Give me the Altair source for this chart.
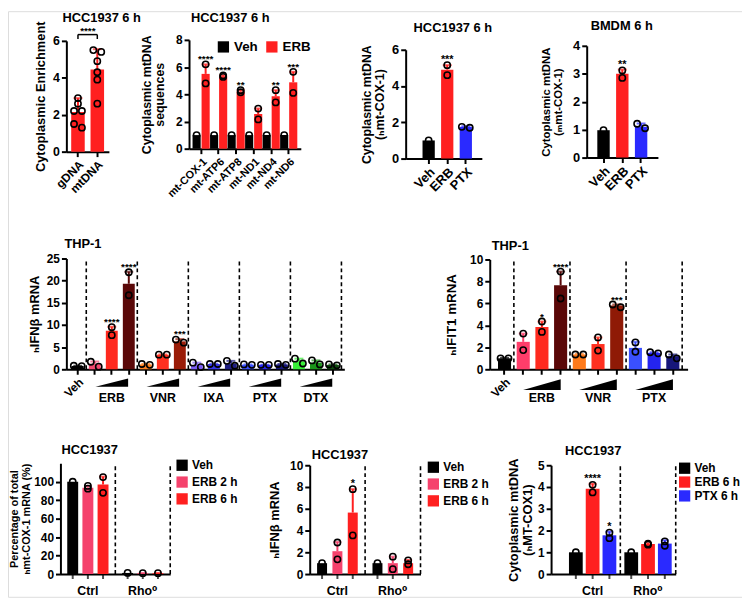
import altair as alt
import pandas as pd

FONT = "Liberation Sans, Arial, DejaVu Sans, sans-serif"
W, H = 742, 592
M = 8  # page margin: figure pixel -> chart pixel
U = alt.Undefined

# ---------------- values ----------------
# a: HCC1937 6 h, cytoplasmic enrichment
a_cats = ["gDNA", "mtDNA"]
a_mean = [2.15, 4.45]
a_upper = [2.9, 5.55]
a_points = [[2.9, 2.6, 2.2, 2.2, 1.5, 1.3], [5.5, 5.4, 4.9, 4.3, 3.9, 2.6]]
a_stars = ["", ""]
a_bracket = "****"

# b: HCC1937 6 h, cytoplasmic mtDNA sequences
b_genes = ["mt-COX-1", "mt-ATP6", "mt-ATP8", "mt-ND1", "mt-ND4", "mt-ND6"]
b_groups = ["Veh", "ERB"]
b_mean = [[1.0, 5.5], [1.0, 5.33], [1.0, 4.2], [1.0, 2.55], [1.0, 3.85], [1.0, 4.88]]
b_upper = [[1.0, 6.2], [1.0, 5.4], [1.0, 4.32], [1.0, 2.95], [1.0, 4.3], [1.0, 5.65]]
b_points = [[[1.0], [6.2, 4.8]], [[1.0], [5.38, 5.28]], [[1.0], [4.3, 4.15]],
            [[1.0], [2.95, 2.15]], [[1.0], [4.3, 3.4]], [[1.0], [5.65, 4.1]]]
b_stars = [["", "****"], ["", "****"], ["", "**"], ["", ""], ["", "**"], ["", "***"]]

# c: HCC1937 6 h and d: BMDM 6 h
cd_cats = ["Veh", "ERB", "PTX"]
c_mean = [1.0, 4.9, 1.75]
c_upper = [1.0, 5.15, 1.78]
c_points = [[1.0], [5.15, 4.6], [1.7, 1.75]]
c_stars = ["", "***", ""]
d_mean = [0.98, 3.0, 1.1]
d_upper = [0.98, 3.15, 1.22]
d_points = [[0.98], [3.12, 2.85], [1.21, 1.05]]
d_stars = ["", "**", ""]

# e: THP-1 IFNb mRNA
e_drugs = ["ERB", "VNR", "IXA", "PTX", "DTX"]
e_mean = [0.75, 1.25, 8.7, 19.3, 1.1, 3.3, 6.3, 1.0, 1.2, 1.3, 1.05, 1.0, 1.1, 1.8, 1.5, 1.0]
e_upper = [0.8, 1.75, 9.6, 22.0, 1.2, 3.35, 6.8, 1.5, 1.25, 1.9, 1.1, 1.05, 1.2, 2.4, 2.0, 1.1]
e_points = [[0.7, 0.8], [1.7, 0.6], [9.5, 7.7], [21.9, 16.7], [1.0, 1.2], [3.3, 3.3],
            [6.7, 6.0], [1.5, 0.5], [1.2, 1.2], [1.9, 0.8], [1.1, 1.0], [1.0, 1.0],
            [1.2, 1.0], [2.4, 1.3], [2.0, 1.1], [1.1, 0.9]]
e_stars = ["", "", "****", "****", "", "", "***", "", "", "", "", "", "", "", "", ""]
e_colors = ["#000000",
            "#f5486f", "#ff2a1f", "#5a0808",
            "#ff8020", "#ff3020", "#9a1c08",
            "#7b5cf5", "#3535e8", "#1e1e80",
            "#3a50ff", "#2424f0", "#16167a",
            "#38f038", "#1a961a", "#0c4a0c"]

# f: THP-1 IFIT1 mRNA
f_drugs = ["ERB", "VNR", "PTX"]
f_mean = [1.0, 2.5, 3.85, 7.65, 1.35, 2.3, 5.8, 1.95, 1.5, 1.2]
f_upper = [1.05, 3.25, 4.35, 8.9, 1.4, 2.9, 5.9, 2.5, 1.55, 1.35]
f_points = [[1.0, 1.0], [3.25, 1.75], [4.35, 3.4], [8.9, 6.45], [1.35, 1.35],
            [2.9, 1.7], [5.65, 5.9], [2.45, 1.6], [1.45, 1.55], [1.35, 1.0]]
f_stars = ["", "", "*", "****", "", "", "***", "", "", ""]
f_colors = ["#000000",
            "#ff3d6a", "#ff2a1f", "#5a0808",
            "#ff7a1a", "#ff3020", "#8f1a06",
            "#3a50ff", "#2424f0", "#16167a"]

# g, h, i: HCC1937 Ctrl / Rho0
gh_groups = ["Ctrl", "Rho\u2070"]
gh_treats = ["Veh", "ERB 2 h", "ERB 6 h"]
g_mean = [[100.0, 93.5, 97.0], [1.2, 1.0, 1.0]]
g_upper = [[100.0, 95.5, 105.5], [1.2, 1.2, 1.2]]
g_points = [[[100.0], [95.5, 92.5], [105.0, 88.0]], [[1.2], [1.0], [1.0]]]
g_stars = [["", "", ""], ["", "", ""]]
h_mean = [[1.0, 2.1, 5.65], [1.0, 1.0, 1.0]]
h_upper = [[1.0, 2.95, 7.8], [1.0, 1.6, 1.3]]
h_points = [[[1.0], [2.9, 1.35], [7.8, 3.55]], [[1.0], [1.6, 0.45], [1.25, 0.9]]]
h_stars = [["", "", "*"], ["", "", ""]]
i_treats = ["Veh", "ERB 6 h", "PTX 6 h"]
i_mean = [[1.0, 3.92, 1.78], [1.0, 1.38, 1.4]]
i_upper = [[1.0, 4.15, 1.95], [1.0, 1.42, 1.55]]
i_points = [[[1.0], [4.1, 3.75], [1.9, 1.65]], [[1.0], [1.4, 1.35], [1.5, 1.3]]]
i_stars = [["", "****", "*"], ["", "", ""]]

BLACK, RED, PINK, BLUE = "#000000", "#ff2020", "#f5426c", "#2a2aff"


# ---------------- helpers ----------------
def y_axis(ax_x, values, title, tsize, tpad, lsize=12):
    return alt.Axis(orient="left", offset=-(ax_x - M), values=values, format="d", grid=False,
                    domainColor="black", domainWidth=2, tickColor="black", tickWidth=2,
                    tickSize=5, labelFont=FONT, labelFontSize=lsize, labelFontWeight="bold",
                    labelColor="black", labelPadding=2, title=title, titleFont=FONT,
                    titleFontSize=tsize, titleFontWeight="bold", titleColor="black",
                    titlePadding=tpad, titleLineHeight=tsize + 1, minExtent=0)


def x_axis(ax_y, lsize=12, angle=-45, ticks=True, expr=None, lpad=2, weight="bold"):
    kw = dict(orient="bottom", offset=(ax_y - M) - H, grid=False, domainColor="black",
              domainWidth=2, tickColor="black", tickWidth=2, ticks=ticks,
              labelFont=FONT, labelFontSize=lsize, labelFontWeight=weight,
              labelColor="black", labelAngle=angle, labelPadding=lpad, title=None,
              minExtent=0)
    if ticks:
        kw["tickSize"] = 5
    if expr:
        kw["labelExpr"] = expr
    return alt.Axis(**kw)


def spread(vals, ppu, thr=5.0):
    order = sorted(range(len(vals)), key=lambda k: -vals[k])
    side = [0] * len(vals)
    k = 0
    while k < len(order):
        cl = [order[k]]
        while k + 1 < len(order) and (vals[order[k]] - vals[order[k + 1]]) * ppu < thr:
            k += 1
            cl.append(order[k])
        if len(cl) > 1:
            pat = [-1, 1, 0]
            for m, idx in enumerate(cl):
                side[idx] = pat[m % 3]
        k += 1
    return side


def title_layer(text, left, ymid, size=13):
    return alt.Chart(pd.DataFrame({"t": [text]})).mark_text(
        align="left", baseline="middle", font=FONT, fontSize=size, fontWeight="bold",
        color="black").encode(text="t:N", x=alt.value(left - M), y=alt.value(ymid - M))


def per_bar(cats, means, uppers, points, stars, colors, xr, inner, outer, align,
            yb, yt, ydom, yaxis, xaxis, bar_band=None, cap=9, star_size=11):
    xs = alt.Scale(domain=cats, range=[xr[0] - M, xr[1] - M], paddingInner=inner,
                   paddingOuter=outer, align=align)
    ys = alt.Scale(domain=ydom, range=[yb - M, yt - M], nice=False)
    cs = alt.Scale(domain=cats, range=colors)
    ppu = (yb - yt) / (ydom[1] - ydom[0])
    bars = pd.DataFrame({"x": cats, "mean": means, "upper": uppers, "star": stars})
    rows = []
    for c, vals in zip(cats, points):
        for v, s in zip(vals, spread(vals, ppu)):
            rows.append({"x": c, "v": v, "side": s})
    pts = pd.DataFrame(rows)

    def X(ax=U, **kw):
        return alt.X("x:N", scale=xs, axis=ax, **kw)

    col = alt.Color("x:N", scale=cs, legend=None)
    layers = []
    bm = alt.Chart(bars).mark_bar(width={"band": bar_band}) if bar_band else alt.Chart(bars).mark_bar()
    layers.append(bm.encode(x=X(xaxis), y=alt.Y("mean:Q", scale=ys, axis=yaxis), color=col))
    err = bars[bars["upper"] > bars["mean"] + 1e-9]
    if len(err):
        layers.append(alt.Chart(err).mark_rule(strokeWidth=2).encode(
            x=X(), y=alt.Y("mean:Q", scale=ys), y2="upper:Q", color=col))
        layers.append(alt.Chart(err).mark_tick(orient="horizontal", size=cap, thickness=2).encode(
            x=X(), y=alt.Y("upper:Q", scale=ys), color=col))
    for s, off in [(-1, -4), (0, 0), (1, 4)]:
        sub = pts[pts["side"] == s]
        if len(sub):
            kw = dict(shape="circle", filled=False, color="black", strokeWidth=1.6, size=40, opacity=1)
            if off:
                kw["xOffset"] = off
            layers.append(alt.Chart(sub).mark_point(**kw).encode(
                x=X(), y=alt.Y("v:Q", scale=ys)))
    st = bars[bars["star"] != ""]
    if len(st):
        layers.append(alt.Chart(st).mark_text(baseline="alphabetic", dy=-2, fontSize=star_size,
                                              fontWeight="bold", color="black").encode(
            x=X(), y=alt.Y("upper:Q", scale=ys), text="star:N"))
    return layers, xs, ys


def grouped(groups, treats, means, uppers, points, stars, colors, xr, g_inner, g_outer,
            o_inner, o_outer, yb, yt, ydom, yaxis, xaxis, legend, bar_ticks=False,
            dashed_top=None, cap=8, star_size=11, g_align=0.5):
    xs = alt.Scale(domain=groups, range=[xr[0] - M, xr[1] - M], paddingInner=g_inner,
                   paddingOuter=g_outer, align=g_align)
    os_ = alt.Scale(domain=treats, paddingInner=o_inner, paddingOuter=o_outer)
    ys = alt.Scale(domain=ydom, range=[yb - M, yt - M], nice=False)
    cs = alt.Scale(domain=treats, range=colors)
    brow, prow = [], []
    for gi, g in enumerate(groups):
        for ti, t in enumerate(treats):
            brow.append({"x": g, "g": t, "mean": means[gi][ti], "upper": uppers[gi][ti],
                         "star": stars[gi][ti]})
            for v in points[gi][ti]:
                prow.append({"x": g, "g": t, "v": v})
    bars = pd.DataFrame(brow)
    pts = pd.DataFrame(prow)

    def X(ax=U, **kw):
        return alt.X("x:N", scale=xs, axis=ax, **kw)

    XO = alt.XOffset("g:N", scale=os_)
    layers = [alt.Chart(bars).mark_bar().encode(
        x=X(xaxis), xOffset=XO, y=alt.Y("mean:Q", scale=ys, axis=yaxis),
        color=alt.Color("g:N", scale=cs, legend=legend))]
    col = alt.Color("g:N", scale=cs, legend=None)
    err = bars[bars["upper"] > bars["mean"] + 1e-9]
    if len(err):
        layers.append(alt.Chart(err).mark_rule(strokeWidth=2).encode(
            x=X(), xOffset=XO, y=alt.Y("mean:Q", scale=ys), y2="upper:Q", color=col))
        layers.append(alt.Chart(err).mark_tick(orient="horizontal", size=cap, thickness=2).encode(
            x=X(), xOffset=XO, y=alt.Y("upper:Q", scale=ys), color=col))
    layers.append(alt.Chart(pts).mark_point(shape="circle", filled=False, color="black",
                                            strokeWidth=1.6, size=40, opacity=1).encode(
        x=X(), xOffset=XO, y=alt.Y("v:Q", scale=ys)))
    st = bars[bars["star"] != ""]
    if len(st):
        layers.append(alt.Chart(st).mark_text(baseline="alphabetic", dy=-2, fontSize=star_size,
                                              fontWeight="bold", color="black").encode(
            x=X(), xOffset=XO, y=alt.Y("upper:Q", scale=ys), text="star:N"))
    if bar_ticks:
        layers.append(alt.Chart(bars).mark_tick(orient="vertical", size=5, thickness=2,
                                                color="black", yOffset=2.5).encode(
            x=X(), xOffset=XO, y=alt.datum(0)))
    if dashed_top is not None:
        layers.append(alt.Chart(pd.DataFrame({"x": groups})).mark_rule(
            strokeDash=[4, 3], strokeWidth=1.6, color="black").encode(
            x=X(bandPosition=1), y=alt.datum(0), y2=alt.datum(dashed_top)))
    return layers


def dose_panel(drugs, means, uppers, points, stars, colors, xr, outer, yb, yt, ydom,
               yaxis, wedge_w, wedge_h, wedge_dy, label_dy):
    bars_names = ["Veh"] + [f"{d}-{k}" for d in drugs for k in (1, 2, 3)]
    xaxis = x_axis(yb, lsize=12, angle=-45, expr="datum.value == 'Veh' ? 'Veh' : ''",
                   lpad=2, weight="bold")
    layers, xs, ys = per_bar(bars_names, means, uppers, points, stars, colors, xr, 0, outer,
                             0.5, yb, yt, ydom, yaxis, xaxis, bar_band=0.7, cap=9, star_size=10)
    bounds = pd.DataFrame({"x": [bars_names[0]] + bars_names[3::3]})
    layers.append(alt.Chart(bounds).mark_rule(strokeDash=[4, 3], strokeWidth=1.6,
                                              color="black").encode(
        x=alt.X("x:N", scale=xs, bandPosition=1), y=alt.datum(ydom[0]),
        y2=alt.datum(ydom[1])))
    mids = pd.DataFrame({"x": bars_names[2::3], "label": drugs})
    hh = wedge_h / wedge_w
    path = f"M-1,{hh:.3f}L1,{hh:.3f}L1,{-hh:.3f}Z"
    layers.append(alt.Chart(mids).mark_point(shape=path, size=wedge_w ** 2, filled=True,
                                             color="black", opacity=1, yOffset=wedge_dy).encode(
        x=alt.X("x:N", scale=xs), y=alt.datum(0)))
    layers.append(alt.Chart(mids).mark_text(dy=label_dy, fontSize=12.5, font=FONT,
                                            fontWeight="bold", color="black").encode(
        x=alt.X("x:N", scale=xs), y=alt.datum(0), text="label:N"))
    return layers


def legend(x, y, row_pad=5, size=12, horizontal=False):
    kw = dict(orient="none", legendX=x - M, legendY=y - M, title=None, symbolType="square",
              symbolSize=130, symbolStrokeWidth=0, symbolOpacity=1, labelFont=FONT,
              labelFontSize=size, labelFontWeight="bold", labelColor="black", labelOffset=4,
              rowPadding=row_pad)
    if horizontal:
        kw["direction"] = "horizontal"
        kw["columnPadding"] = 7
    return alt.Legend(**kw)


panels = []

# ---- a ----
la, xs_a, ys_a = per_bar(
    a_cats, a_mean, a_upper, a_points, a_stars, [RED, RED], (67, 110), 0.3, 0.25, 0.5,
    150, 38, [0, 6], y_axis(67, [0, 2, 4, 6], "Cytoplasmic Enrichment", 13, 5, lsize=12.5),
    x_axis(150, lsize=12))
one = pd.DataFrame({"x": a_cats})
la.append(alt.Chart(one.iloc[:1]).mark_rule(strokeWidth=1.5, color="black").encode(
    x=alt.X("x:N", scale=xs_a), x2=alt.datum(a_cats[1]), y=alt.datum(6.34)))
la.append(alt.Chart(one).mark_rule(strokeWidth=1.5, color="black").encode(
    x=alt.X("x:N", scale=xs_a), y=alt.datum(6.34), y2=alt.datum(6.1)))
la.append(alt.Chart(pd.DataFrame({"x": [a_cats[0]], "s": [a_bracket]})).mark_text(
    baseline="alphabetic", dy=-1, xOffset=10, fontSize=10, fontWeight="bold", color="black").encode(
    x=alt.X("x:N", scale=xs_a), y=alt.datum(6.34), text="s:N"))
la.append(title_layer("HCC1937 6 h", 63, 15))
panels.append(alt.layer(*la))

# ---- b ----
lb = grouped(b_genes, b_groups, b_mean, b_upper, b_points, b_stars, [BLACK, RED], (191, 304),
             0, 0.19, 0.1, 0.02, 147, 37, [0, 8],
             y_axis(191, [0, 2, 4, 6, 8], ["Cytoplasmic mtDNA", "sequences"], 12.5, 9),
             x_axis(147, lsize=11), legend(219, 37, size=13.5, horizontal=True), star_size=10)
lb.append(title_layer("HCC1937 6 h", 193, 15))
panels.append(alt.layer(*lb))

# ---- c ----
lc, _, _ = per_bar(cd_cats, c_mean, c_upper, c_points, c_stars, [BLACK, RED, BLUE], (410, 487),
                   0.34, 0.72, 0.63, 157, 47, [0, 6],
                   y_axis(410, [0, 2, 4, 6], ["Cytoplasmic mtDNA", "(\u2095mt-COX-1)"], 12.5, 5, lsize=13),
                   x_axis(157, lsize=13))
lc.append(title_layer("HCC1937 6 h", 418, 25))
panels.append(alt.layer(*lc))

# ---- d ----
ld, _, _ = per_bar(cd_cats, d_mean, d_upper, d_points, d_stars, [BLACK, RED, BLUE], (593, 665),
                   0.34, 0.565, 0.5, 156, 43, [0, 4],
                   y_axis(593, [0, 1, 2, 3, 4], ["Cytoplasmic mtDNA", "(\u2098mt-COX-1)"], 11.5, 9, lsize=13),
                   x_axis(156, lsize=13))
ld.append(title_layer("BMDM 6 h", 597, 23))
panels.append(alt.layer(*ld))

# ---- e ----
le = dose_panel(e_drugs, e_mean, e_upper, e_points, e_stars, e_colors, (67, 348), 0.17,
                370, 258, [0, 25], y_axis(67, [0, 5, 10, 15, 20, 25], "\u2095IFN\u03b2 mRNA", 13, 5),
                33, 8.5, 13.5, 29)
le.append(title_layer("THP-1", 65, 243))
panels.append(alt.layer(*le))

# ---- f ----
lf = dose_panel(f_drugs, f_mean, f_upper, f_points, f_stars, f_colors, (495, 695), 0.29,
                370, 259, [0, 10], y_axis(495, [0, 2, 4, 6, 8, 10], "\u2095IFIT1 mRNA", 13.5, 11),
                38, 11, 15.5, 29)
lf.append(title_layer("THP-1", 497, 245))
panels.append(alt.layer(*lf))

# ---- g ----
lg = grouped(gh_groups, gh_treats, g_mean, g_upper, g_points, g_stars, [BLACK, PINK, RED],
             (61, 172), 0, 0, 0.28, 0.45, 577, 465, [0, 120],
             y_axis(61, [0, 20, 40, 60, 80, 100],
                    ["Percentage of total", "\u2095mt-COX-1 mRNA (%)"], 11, 2),
             x_axis(577, lsize=12.5, angle=0, ticks=False, lpad=11, weight="bold"),
             legend(178, 461), bar_ticks=True, dashed_top=120)
lg.append(title_layer("HCC1937", 62, 452))
panels.append(alt.layer(*lg))

# ---- h ----
lh = grouped(gh_groups, gh_treats, h_mean, h_upper, h_points, h_stars, [BLACK, PINK, RED],
             (313, 425), 0, 0, 0.35, 0.48, 577, 467, [0, 10],
             y_axis(313, [0, 2, 4, 6, 8, 10], "\u2095IFN\u03b2 mRNA", 13, 8),
             x_axis(577, lsize=12.5, angle=0, ticks=False, lpad=11, weight="bold"),
             legend(432, 463), bar_ticks=True, dashed_top=10)
lh.append(title_layer("HCC1937", 315, 457))
panels.append(alt.layer(*lh))

# ---- i ----
li = grouped(gh_groups, i_treats, i_mean, i_upper, i_points, i_stars, [BLACK, RED, BLUE],
             (557, 683), 0, 0.125, 0.18, 0.24, 577, 467, [0, 5],
             y_axis(557, [0, 1, 2, 3, 4, 5], ["Cytoplasmic mtDNA", "(\u2095MT-COX1)"], 13, 3),
             x_axis(577, lsize=12.5, angle=0, ticks=False, lpad=11, weight="bold"),
             legend(686, 464, row_pad=2, size=12), bar_ticks=True, dashed_top=5, g_align=1)
li.append(title_layer("HCC1937", 571, 453))
panels.append(alt.layer(*li))

chart = alt.layer(*panels).resolve_scale(
    x="independent", y="independent", color="independent", xOffset="independent"
).properties(
    width=W, height=H, padding=0, autosize=alt.AutoSizeParams(type="none")
).configure_view(stroke=None).configure(font=FONT)

chart.save("out.html", embed_options={"renderer": "svg", "actions": False})
